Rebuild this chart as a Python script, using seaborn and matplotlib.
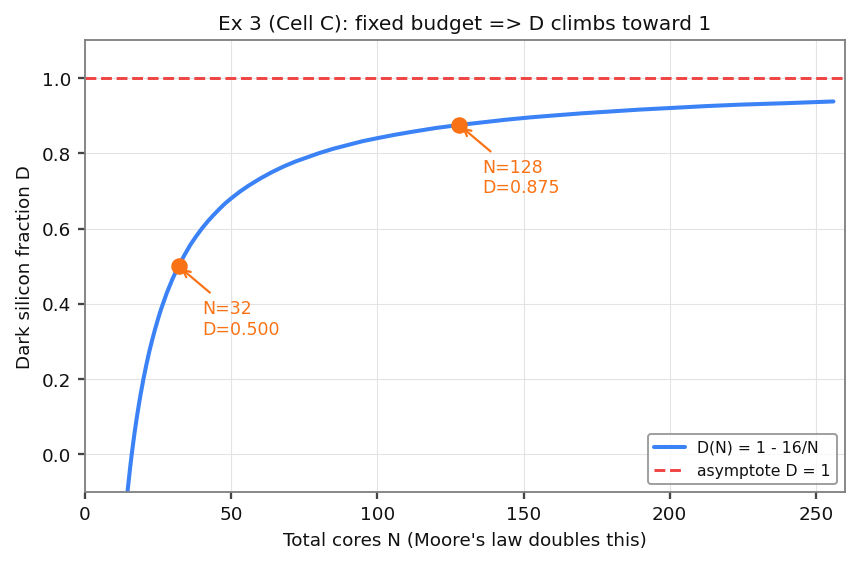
import numpy as np
import pandas as pd
import matplotlib
matplotlib.use('Agg')
import matplotlib.pyplot as plt
import seaborn as sns

cores_n = [14.5, 15, 15.5, 16, 16.5, 17, 17.5, 18, 18.5, 19, 20, 21, 22, 23, 24, 25, 26,
           27, 28, 29, 30, 32, 34, 36, 38, 40, 42, 44, 46, 48, 50, 53, 56, 60, 64, 68,
           72, 76, 80, 85, 90, 95, 100, 106, 112, 120, 128, 136, 144, 152, 160, 170,
           180, 190, 200, 212, 224, 240, 256]
dark_frac = [-0.103, -0.067, -0.032, 0.000, 0.030, 0.059, 0.086, 0.111, 0.135, 0.158,
             0.200, 0.238, 0.273, 0.304, 0.333, 0.360, 0.385, 0.407, 0.429, 0.448,
             0.467, 0.500, 0.529, 0.556, 0.579, 0.600, 0.619, 0.636, 0.652, 0.667,
             0.680, 0.698, 0.714, 0.733, 0.750, 0.765, 0.778, 0.789, 0.800, 0.812,
             0.822, 0.832, 0.840, 0.849, 0.857, 0.867, 0.875, 0.882, 0.889, 0.895,
             0.900, 0.906, 0.911, 0.916, 0.920, 0.925, 0.929, 0.933, 0.9375]

marked_n = [32, 128]
marked_d = [0.500, 0.875]

blue = '#3b82f6'
red = '#ef4444'
orange = '#f97316'

sns.set_theme(style='whitegrid')
plt.rcParams['font.family'] = ['DejaVu Sans']
plt.rcParams['text.color'] = '#111111'
plt.rcParams['axes.labelcolor'] = '#111111'
plt.rcParams['xtick.color'] = '#111111'
plt.rcParams['ytick.color'] = '#111111'

fig, ax = plt.subplots(figsize=(6.5, 4.3), dpi=132)
fig.subplots_adjust(left=0.099, right=0.985, top=0.928, bottom=0.132)

df = pd.DataFrame({'N': cores_n, 'D': dark_frac})
sns.lineplot(data=df, x='N', y='D', ax=ax, color=blue, linewidth=2.2,
             label='D(N) = 1 - 16/N')
ax.axhline(1.0, color=red, linestyle='--', linewidth=1.6, label='asymptote D = 1')

ax.plot(marked_n, marked_d, 'o', color=orange, markersize=8, zorder=5)
for n, d in zip(marked_n, marked_d):
    ax.annotate(f'N={n}\nD={d:.3f}', xy=(n, d), xytext=(n + 8, d - 0.18),
                color=orange, fontsize=9.5,
                arrowprops=dict(arrowstyle='->', color=orange, lw=1.2))

ax.set_xlim(0, 260)
ax.set_ylim(-0.1, 1.1)
ax.set_xlabel("Total cores N (Moore's law doubles this)", fontsize=10)
ax.set_ylabel('Dark silicon fraction D', fontsize=10)
ax.set_title('Ex 3 (Cell C): fixed budget => D climbs toward 1', fontsize=11)

ax.grid(True, color='#e3e3e3', linewidth=0.6)
for s in ax.spines.values():
    s.set_color('#808080')
    s.set_linewidth(1.0)
ax.tick_params(axis='both', which='both', length=4, color='#444444',
               left=True, bottom=True, labelsize=10)

leg = ax.legend(loc='lower right', fontsize=8.5, frameon=True)
leg.get_frame().set_edgecolor('#808080')

plt.savefig('out.png', dpi=132)
